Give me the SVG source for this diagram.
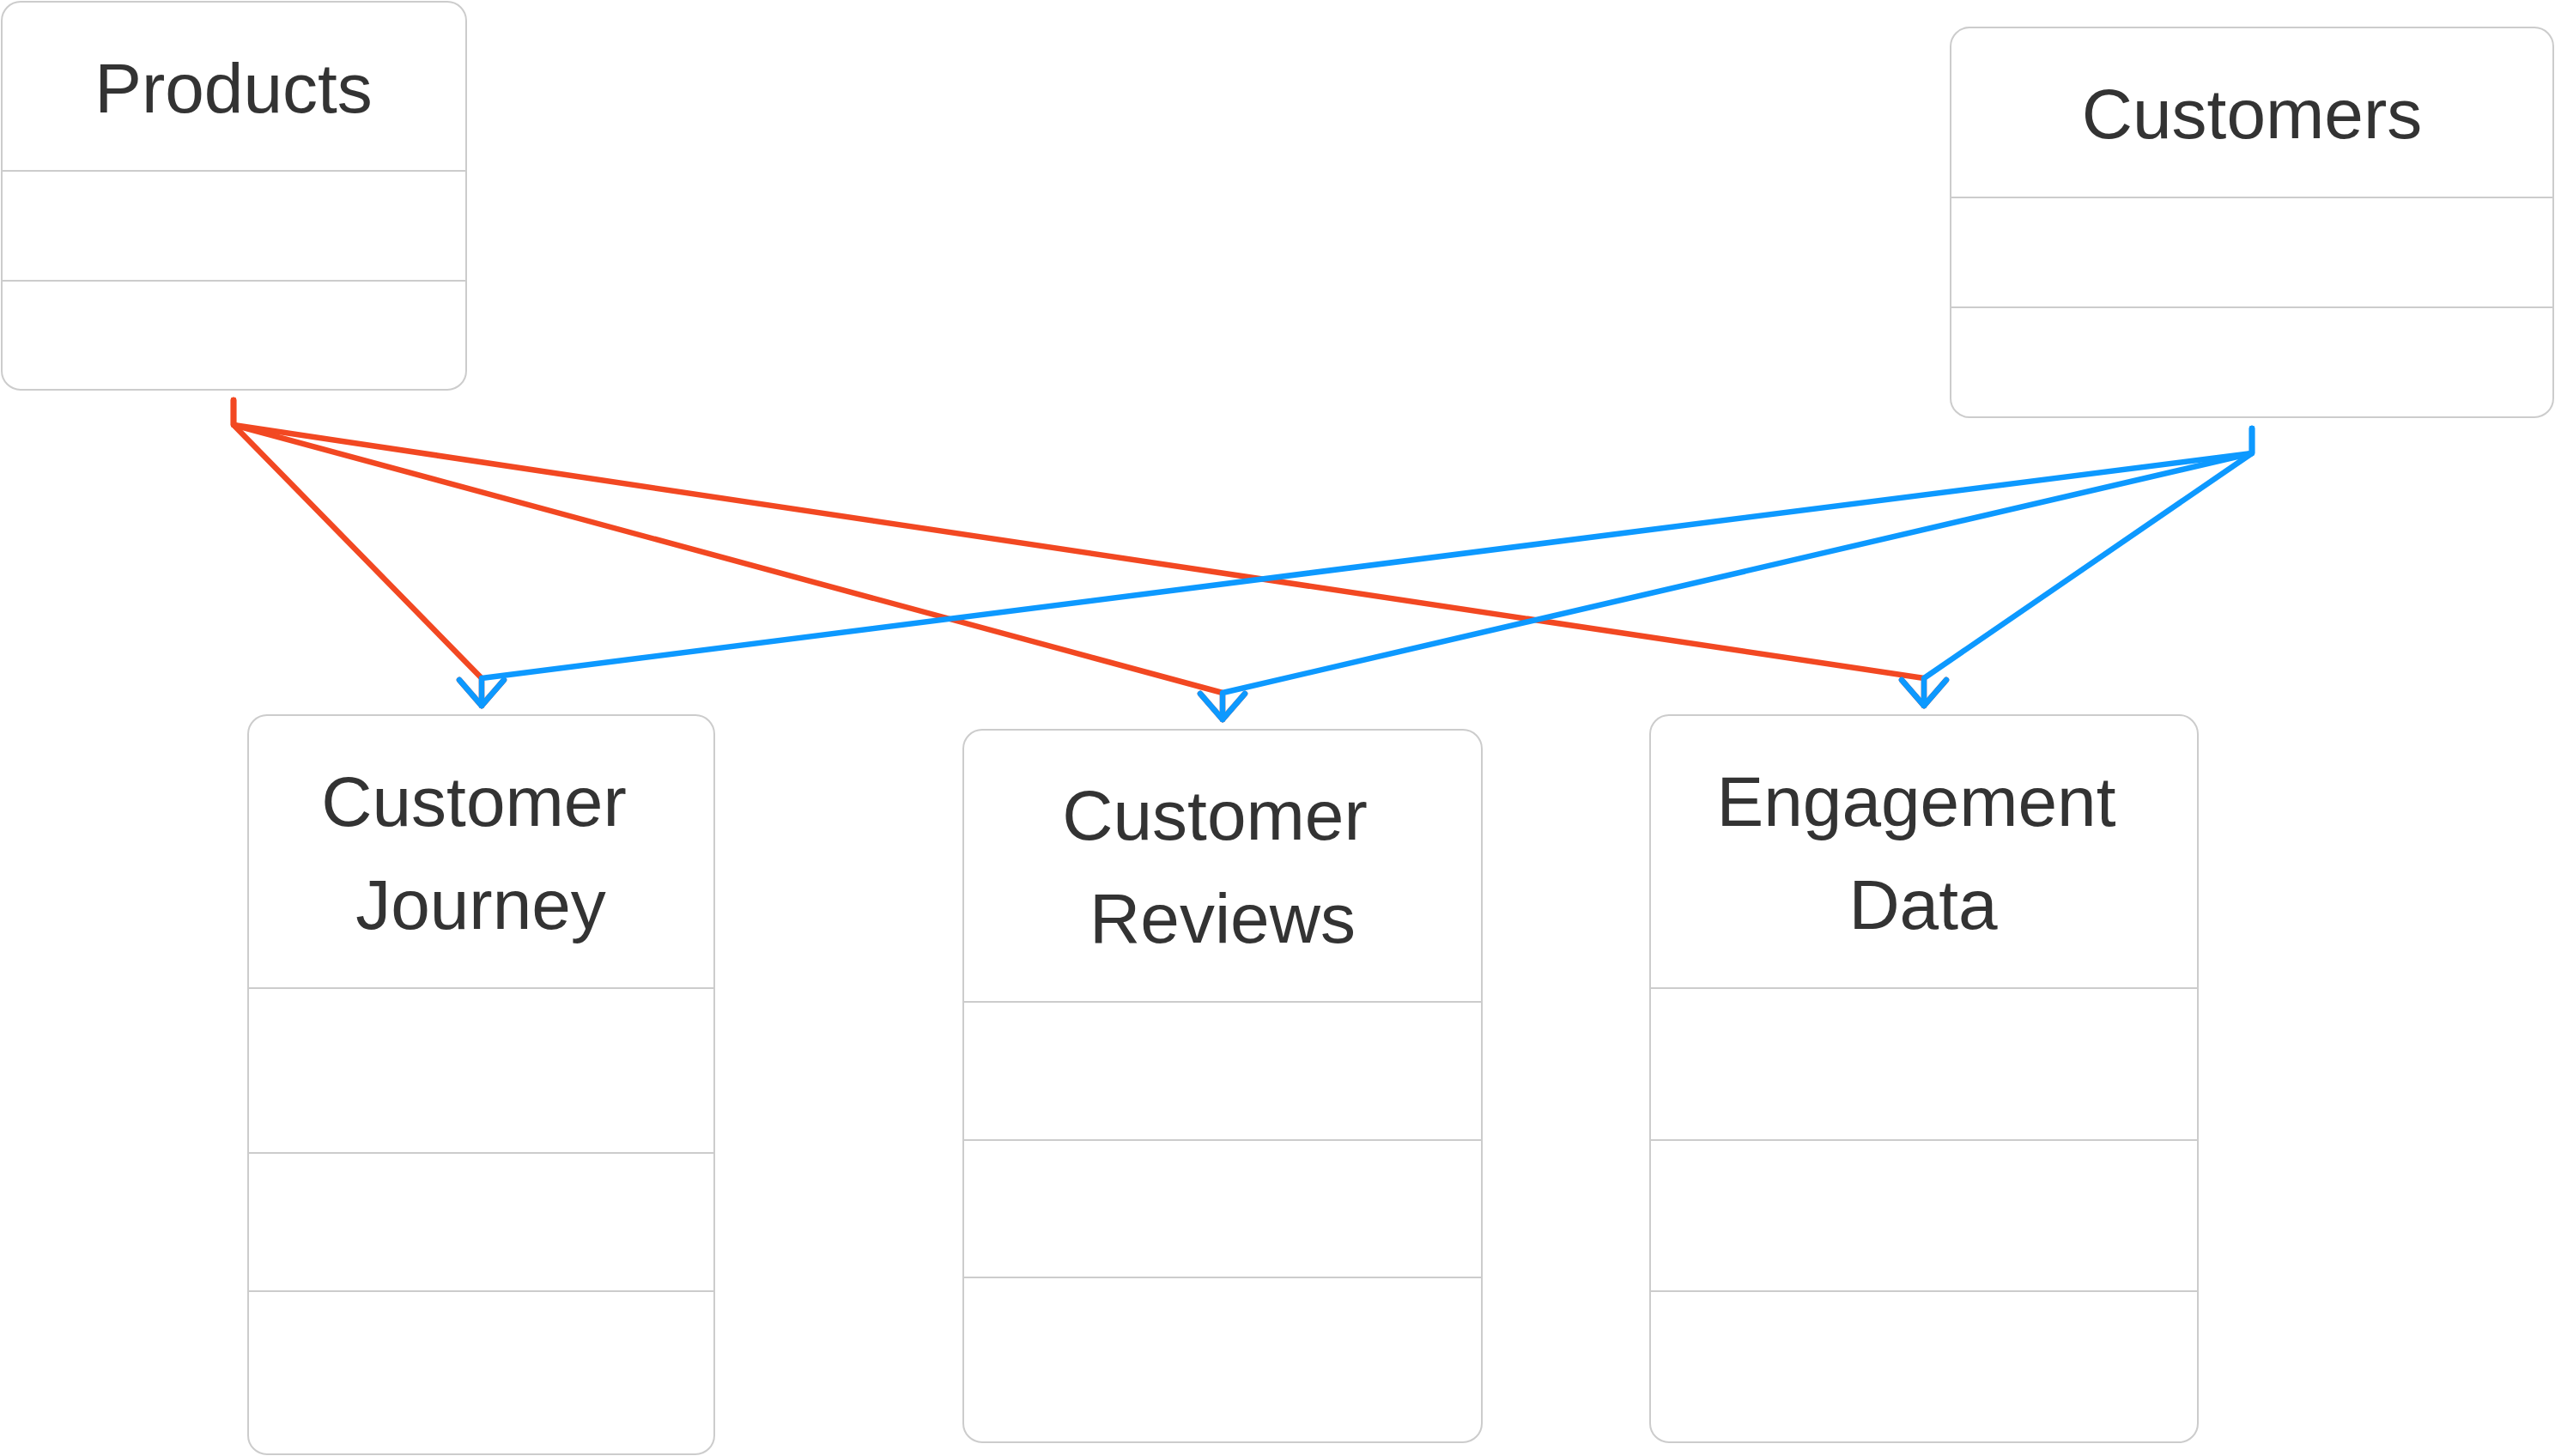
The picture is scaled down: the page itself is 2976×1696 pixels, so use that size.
<svg xmlns="http://www.w3.org/2000/svg" width="2976" height="1696" viewBox="0 0 2976 1696">
<style>
.box{fill:#ffffff;stroke:#cccccc;stroke-width:2}
.div{stroke:#cccccc;stroke-width:2}
.lbl{font-family:"Liberation Sans",Arial,sans-serif;font-size:82px;fill:#333333;text-anchor:middle}
.red{fill:none;stroke:#F24822;stroke-width:6.5;stroke-linejoin:round;stroke-linecap:round}
.blue{fill:none;stroke:#0D99FF;stroke-width:6.5;stroke-linejoin:round;stroke-linecap:round}
</style>
<defs>
<marker id="arrRed" markerUnits="userSpaceOnUse" markerWidth="80" markerHeight="80" refX="0" refY="0" orient="auto" viewBox="-40 -40 80 80" overflow="visible">
<path d="M -30 -26 L 0 0 L -30 26" fill="none" stroke="#F24822" stroke-width="6.5" stroke-linecap="round" stroke-linejoin="round"/>
</marker>
<marker id="arrBlue" markerUnits="userSpaceOnUse" markerWidth="80" markerHeight="80" refX="0" refY="0" orient="auto" viewBox="-40 -40 80 80" overflow="visible">
<path d="M -30 -26 L 0 0 L -30 26" fill="none" stroke="#0D99FF" stroke-width="6.5" stroke-linecap="round" stroke-linejoin="round"/>
</marker>
</defs>
<rect width="2976" height="1696" fill="#ffffff"/>
<g id="products">
<rect class="box" x="2" y="2" width="541" height="452" rx="22"/>
<line class="div" x1="2" y1="199" x2="543" y2="199"/>
<line class="div" x1="2" y1="327" x2="543" y2="327"/>
<text class="lbl" x="272" y="131">Products</text>
</g>
<g id="customers">
<rect class="box" x="2272" y="32" width="702" height="454" rx="22"/>
<line class="div" x1="2272" y1="230" x2="2974" y2="230"/>
<line class="div" x1="2272" y1="358" x2="2974" y2="358"/>
<text class="lbl" x="2623" y="161">Customers</text>
</g>
<g id="customer-journey">
<rect class="box" x="289" y="833" width="543" height="861" rx="22"/>
<line class="div" x1="289" y1="1151" x2="832" y2="1151"/>
<line class="div" x1="289" y1="1343" x2="832" y2="1343"/>
<line class="div" x1="289" y1="1504" x2="832" y2="1504"/>
<text class="lbl" x="552" y="962">Customer</text>
<text class="lbl" x="560" y="1082">Journey</text>
</g>
<g id="customer-reviews">
<rect class="box" x="1122" y="850" width="604" height="830" rx="22"/>
<line class="div" x1="1122" y1="1167" x2="1726" y2="1167"/>
<line class="div" x1="1122" y1="1328" x2="1726" y2="1328"/>
<line class="div" x1="1122" y1="1488" x2="1726" y2="1488"/>
<text class="lbl" x="1415" y="978">Customer</text>
<text class="lbl" x="1424" y="1098">Reviews</text>
</g>
<g id="engagement-data">
<rect class="box" x="1922" y="833" width="638" height="847" rx="22"/>
<line class="div" x1="1922" y1="1151" x2="2560" y2="1151"/>
<line class="div" x1="1922" y1="1328" x2="2560" y2="1328"/>
<line class="div" x1="1922" y1="1504" x2="2560" y2="1504"/>
<text class="lbl" x="2232" y="962">Engagement</text>
<text class="lbl" x="2240" y="1082">Data</text>
</g>
<g id="connectors">
<path class="red" d="M 272 466 V 495 L 561 790 V 822" marker-end="url(#arrRed)"/>
<path class="red" d="M 272 466 V 495 L 1424 807 V 838" marker-end="url(#arrRed)"/>
<path class="red" d="M 272 466 V 495 L 2241 790 V 822" marker-end="url(#arrRed)"/>
<path class="blue" d="M 2623 499 V 528 L 561 790 V 822" marker-end="url(#arrBlue)"/>
<path class="blue" d="M 2623 499 V 528 L 1424 807 V 838" marker-end="url(#arrBlue)"/>
<path class="blue" d="M 2623 499 V 528 L 2241 790 V 822" marker-end="url(#arrBlue)"/>
</g>
</svg>
